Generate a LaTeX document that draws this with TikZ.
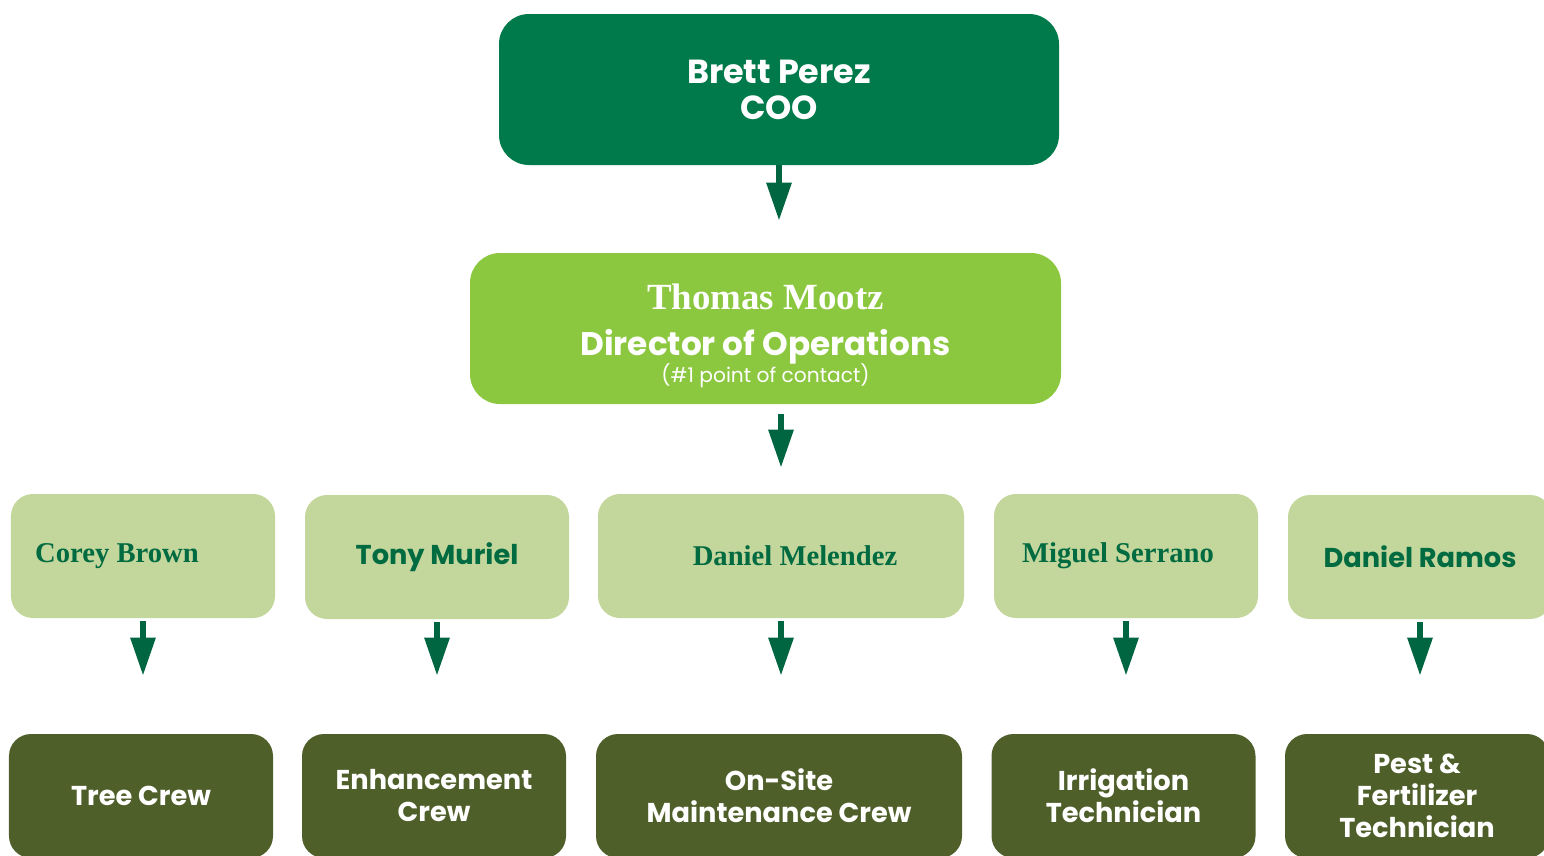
\documentclass[tikz,border=0pt]{standalone}
\usepackage{fontspec}
\setmainfont{Poppins}
\newfontfamily\namefont{Liberation Serif}
\usetikzlibrary{arrows.meta}

\definecolor{cooGreen}{HTML}{007A4B}
\definecolor{dirGreen}{HTML}{8BC73F}
\definecolor{leadGreen}{HTML}{C3D69C}
\definecolor{crewOlive}{HTML}{4F5F2A}
\definecolor{nameGreen}{HTML}{006A40}
\definecolor{arrowGreen}{HTML}{006641}

\begin{document}
\begin{tikzpicture}[x=0.2mm, y=-0.2mm,
	every node/.style={text centered, inner sep=0pt},
	box/.style={rectangle, rounded corners=4.4mm, minimum height=24.8mm},
	lead/.style={box, fill=leadGreen, text=nameGreen, minimum width=52.8mm},
	crew/.style={box, fill=crewOlive, text=white, align=center, minimum width=52.8mm,
		font=\fontsize{15.5}{18.2}\selectfont\bfseries},
	serifname/.style={font=\namefont\fontsize{16.3}{18}\selectfont\bfseries},
	sansname/.style={font=\fontsize{15.5}{18}\selectfont\bfseries},
	arr/.style={draw=arrowGreen, line width=1.2mm, -{Triangle[width=4.8mm, length=7.6mm]}}]

	\useasboundingbox (0, 0) rectangle (1544, 855);

	% top levels
	\node[rectangle, rounded corners=6mm, fill=cooGreen, text=white, align=center,
		minimum width=112mm, minimum height=30.2mm,
		font=\fontsize{19}{20.5}\selectfont\bfseries] (coo) at (779, 89.5)
		{Brett Perez\\COO};
	\node[rectangle, rounded corners=6mm, fill=dirGreen,
		minimum width=118.2mm, minimum height=30.2mm] (dir) at (765.5, 328.5) {};
	\node[text=white, align=center, font=\fontsize{12}{26}\selectfont] (dirtext) at (765.5, 335.5)
		{{\namefont\fontsize{21}{24}\selectfont\bfseries Thomas Mootz}\\
		 {\fontsize{18.6}{20}\selectfont\bfseries Director of Operations}\\[-10.6pt]
		 {\fontsize{11.5}{13}\selectfont (\#1 point of contact)}};

	% leads
	\node[lead, serifname] (brown) at (143, 556) {\hspace*{-10.4mm}Corey Brown};
	\node[lead, sansname] (muriel) at (437, 557) {Tony Muriel};
	\node[lead, serifname, minimum width=73.2mm] (melendez) at (781, 556) {\hspace*{5.6mm}Daniel Melendez};
	\node[lead, serifname] (serrano) at (1126, 556) {\hspace*{-3.2mm}Miguel Serrano};
	\node[lead, sansname] (ramos) at (1420, 557) {Daniel Ramos};

	% crews
	\node[crew] (tree) at (141, 796) {Tree Crew};
	\node[crew] (enh) at (434, 796) {Enhancement\\Crew};
	\node[crew, minimum width=73.2mm] (onsite) at (779, 796) {On-Site\\Maintenance Crew};
	\node[crew] (irr) at (1123.5, 796) {Irrigation\\Technician};
	\node[crew] (pest) at (1417, 796) {Pest \&\\Fertilizer\\Technician};

	% arrows
	\draw[arr, shorten >=6.4mm] (coo.south) -- (coo.south |- dir.north);
	\draw[arr, shorten <=2mm, shorten >=5.2mm] (melendez.north |- dir.south) -- (melendez.north);
	\foreach \a/\b in {brown/tree, muriel/enh, melendez/onsite, serrano/irr, ramos/pest}
		\draw[arr, shorten <=0.6mm, shorten >=11.6mm] (\a.south) -- (\a.south |- \b.north);
\end{tikzpicture}
\end{document}
